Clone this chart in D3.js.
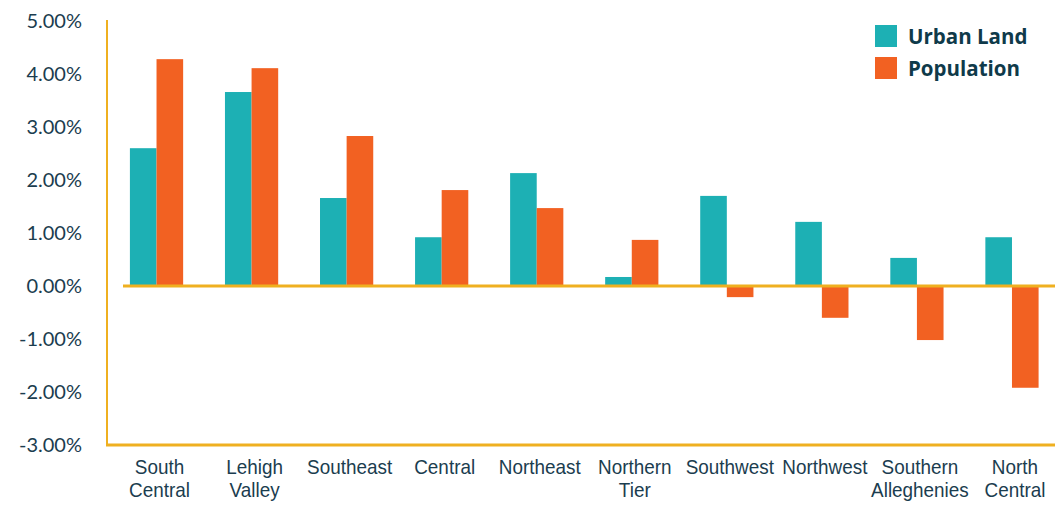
<!DOCTYPE html>
<html><head><meta charset="utf-8">
<script src="https://cdn.jsdelivr.net/npm/d3@7"></script>
<style>body{margin:0;background:#fff}svg{display:block}</style>
</head><body>
<svg id="c" width="1055" height="508"></svg>
<script>
const categories = [["South","Central"],["Lehigh","Valley"],["Southeast"],["Central"],["Northeast"],["Northern","Tier"],["Southwest"],["Northwest"],["Southern","Alleghenies"],["North","Central"]];
const urbanLand = [2.60, 3.66, 1.66, 0.92, 2.13, 0.17, 1.70, 1.21, 0.53, 0.92];
const population = [4.28, 4.11, 2.83, 1.81, 1.47, 0.87, -0.21, -0.60, -1.02, -1.92];
const yTicks = [5, 4, 3, 2, 1, 0, -1, -2, -3];
const seriesNames = ["Urban Land", "Population"];
const colors = ["#1db0b4", "#f26122"];

const svg = d3.select("#c");
const x = d3.scaleBand().domain(d3.range(categories.length)).range([109, 1059.5]).paddingInner(0.44).paddingOuter(0.22);
const xs = d3.scaleBand().domain([0,1]).range([0, x.bandwidth()]);
const y = d3.scaleLinear().domain([-3, 5]).range([445, 21]);
const textCol = "#1b3d4f";
const gold = "#efb020";

// y labels
const yAxis = d3.axisLeft(y).tickValues(yTicks).tickSize(0).tickPadding(0).tickFormat(d => (d < 0 ? "-" : "") + Math.abs(d).toFixed(2) + "%");
const ga = svg.append("g").attr("transform","translate(82,0)").call(yAxis);
ga.select(".domain").remove();
ga.selectAll("text").attr("font-family","Lato, 'Open Sans', sans-serif").attr("font-size",20).attr("fill",textCol).attr("dy","0.3em");

// bars
const series = [urbanLand, population];
series.forEach((vals, si) => {
  svg.append("g").selectAll("rect").data(vals).join("rect")
    .attr("x", (d,i) => x(i) + xs(si))
    .attr("width", xs.bandwidth())
    .attr("y", d => y(Math.max(0,d)))
    .attr("height", d => Math.abs(y(d) - y(0)))
    .attr("fill", colors[si]);
});

// axis lines
svg.append("line").attr("x1",107).attr("x2",107).attr("y1",y(5)-1).attr("y2",y(-3)+1).attr("stroke",gold).attr("stroke-width",2);
svg.append("line").attr("x1",106).attr("x2",1055).attr("y1",y(-3)).attr("y2",y(-3)).attr("stroke",gold).attr("stroke-width",3);
svg.append("line").attr("x1",123).attr("x2",1055).attr("y1",y(0)).attr("y2",y(0)).attr("stroke",gold).attr("stroke-width",3);

// x labels
const xl = svg.append("g").selectAll("text").data(categories).join("text")
  .attr("transform",(d,i)=>`translate(${x(i)+x.bandwidth()/2+3},474) scale(0.9,1)`)
  .attr("text-anchor","middle")
  .attr("font-family","'Liberation Sans', Arial, sans-serif")
  .attr("font-size",21).attr("fill",textCol);
xl.each(function(d,i){
  const t = d3.select(this);
  d.forEach((line,k)=>{
    t.append("tspan").attr("x",0).attr("dy",k===0?0:23.5).text(line);
  });
});

// legend
const lg = svg.append("g").attr("transform","translate(875,25)");
seriesNames.forEach((n,i)=>{
  lg.append("rect").attr("x",0).attr("y",i*32).attr("width",22).attr("height",22).attr("fill",colors[i]);
  lg.append("text").attr("x",33).attr("y",i*32+19).attr("font-family","'Open Sans', sans-serif").attr("font-weight","bold").attr("font-size",20.5).attr("fill","#0f3a4a").text(n);
});
</script>
</body></html>
